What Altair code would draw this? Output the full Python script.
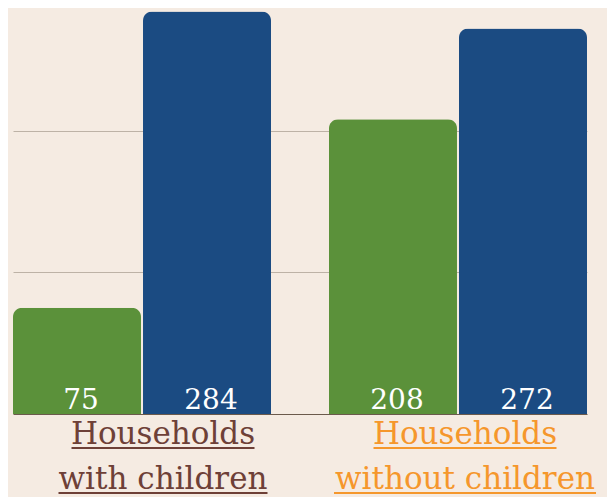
import altair as alt
import pandas as pd

# ---- data ----
categories = ["Households with children", "Households without children"]
series = ["Series 1", "Series 2"]
values_series1 = [75, 208]
values_series2 = [284, 272]
label_lines = [["Households", "with children"], ["Households", "without children"]]
gridline_values = [100, 200]

rows = []
for i, c in enumerate(categories):
    rows.append({"category": c, "series": series[0], "value": values_series1[i]})
    rows.append({"category": c, "series": series[1], "value": values_series2[i]})
df = pd.DataFrame(rows)

# ---- style ----
BG = "#f5ebe2"
GREEN = "#5b913a"
BLUE = "#1b4b82"
GRID = "#bdb2a6"
BASE = "#6b5a4c"
LABEL_COLORS = ["#6e4037", "#f5972c"]
FONT = "DejaVu Serif"
W, H = 574, 406
label_dx = [21, 7]
line_y = [436, 481]
underline_y = [440, 485]
underline_w = [[183, 209], [183, 262]]

x_scale = alt.Scale(domain=categories, paddingInner=0.1835, paddingOuter=0)
xoff_scale = alt.Scale(domain=series, paddingInner=0.0154, paddingOuter=0)
y_scale = alt.Scale(domain=[0, 286.5], nice=False, zero=True)

base = alt.Chart(df)

bars = base.mark_bar(cornerRadiusTopLeft=9, cornerRadiusTopRight=9).encode(
    x=alt.X("category:N", scale=x_scale, sort=categories,
            axis=alt.Axis(labels=False, ticks=False, title=None, grid=False,
                          domainColor=BASE, domainWidth=1)),
    xOffset=alt.XOffset("series:N", scale=xoff_scale, sort=series),
    y=alt.Y("value:Q", scale=y_scale,
            axis=alt.Axis(values=gridline_values, labels=False, ticks=False,
                          domain=False, title=None, grid=True,
                          gridColor=GRID, gridWidth=1)),
    color=alt.Color("series:N", scale=alt.Scale(domain=series, range=[GREEN, BLUE]),
                    legend=None),
)

value_text = base.mark_text(font=FONT, fontSize=28, color="white",
                            baseline="alphabetic", dy=-5, dx=4).encode(
    x=alt.X("category:N", scale=x_scale, sort=categories),
    xOffset=alt.XOffset("series:N", scale=xoff_scale, sort=series),
    y=alt.datum(0),
    text=alt.Text("value:Q"),
)

layers = [bars, value_text]
for i, c in enumerate(categories):
    for j, line in enumerate(label_lines[i]):
        dfl = pd.DataFrame({"category": [c], "text": [line]})
        t = alt.Chart(dfl).mark_text(font=FONT, fontSize=31, color=LABEL_COLORS[i],
                                     baseline="alphabetic", align="center",
                                     xOffset=label_dx[i]).encode(
            x=alt.X("category:N", scale=x_scale, sort=categories),
            y=alt.value(line_y[j]),
            text=alt.Text("text:N"),
        )
        u = alt.Chart(dfl).mark_tick(orient="horizontal", size=underline_w[i][j],
                                     thickness=2, color=LABEL_COLORS[i], opacity=1,
                                     xOffset=label_dx[i]).encode(
            x=alt.X("category:N", scale=x_scale, sort=categories),
            y=alt.value(underline_y[j]),
        )
        layers += [t, u]

chart = alt.layer(*layers).properties(
    width=W, height=H, background=BG,
    padding={"left": 5, "top": 0, "right": 20, "bottom": 83},
    autosize="none",
).configure_view(stroke=None)

chart.save("out.html", embed_options={"renderer": "svg", "actions": False})
